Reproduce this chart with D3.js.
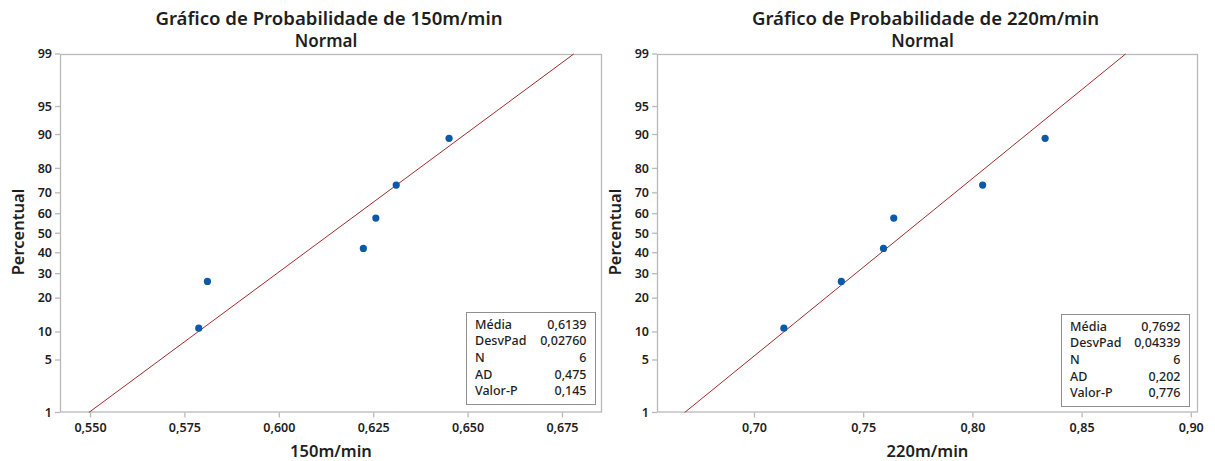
<!DOCTYPE html>
<html>
<head>
<meta charset="utf-8">
<script src="https://cdn.jsdelivr.net/npm/d3@7"></script>
<style>
  html, body { margin: 0; padding: 0; background: #fff; }
  svg { display: block; font-family: "Noto Sans", "Open Sans", sans-serif; }
</style>
</head>
<body>
<svg id="chart" width="1215" height="461"></svg>
<script>
// Percent ticks on the normal probability axis
const pctTicks = [1, 5, 10, 20, 30, 40, 50, 60, 70, 80, 90, 95, 99];
// Plotting positions (median ranks) for n = 6
const percentis = [10.9, 26.6, 42.2, 57.8, 73.4, 89.1];

// 150 m/min sample
const valores150 = [0.5788, 0.5811, 0.6224, 0.6257, 0.6311, 0.6451];
const ticks150 = [0.550, 0.575, 0.600, 0.625, 0.650, 0.675];
const statsLabels = ["Média", "DesvPad", "N", "AD", "Valor-P"];
const stats150 = ["0,6139", "0,02760", "6", "0,475", "0,145"];
const media150 = 0.6139, desvPad150 = 0.02760;

// 220 m/min sample
const valores220 = [0.7137, 0.7400, 0.7593, 0.7640, 0.8047, 0.8333];
const ticks220 = [0.70, 0.75, 0.80, 0.85, 0.90];
const stats220 = ["0,7692", "0,04339", "6", "0,202", "0,776"];
const media220 = 0.7692, desvPad220 = 0.04339;

// Inverse standard normal CDF (Acklam's rational approximation)
function probit(p) {
  const a = [-3.969683028665376e+01, 2.209460984245205e+02, -2.759285104469687e+02,
             1.383577518672690e+02, -3.066479806614716e+01, 2.506628277459239e+00];
  const b = [-5.447609879822406e+01, 1.615858368580409e+02, -1.556989798598866e+02,
             6.680131188771972e+01, -1.328068155288572e+01];
  const c = [-7.784894002430293e-03, -3.223964580411365e-01, -2.400758277161838e+00,
             -2.549671010149854e+00, 4.374664141464968e+00, 2.938163982698783e+00];
  const d = [7.784695709041462e-03, 3.224671290700398e-01, 2.445134137142996e+00,
             3.754408661907416e+00];
  const pl = 0.02425, ph = 1 - pl;
  let q, r;
  if (p < pl) {
    q = Math.sqrt(-2 * Math.log(p));
    return (((((c[0]*q+c[1])*q+c[2])*q+c[3])*q+c[4])*q+c[5]) /
           ((((d[0]*q+d[1])*q+d[2])*q+d[3])*q+1);
  } else if (p <= ph) {
    q = p - 0.5; r = q * q;
    return (((((a[0]*r+a[1])*r+a[2])*r+a[3])*r+a[4])*r+a[5])*q /
           (((((b[0]*r+b[1])*r+b[2])*r+b[3])*r+b[4])*r+1);
  } else {
    q = Math.sqrt(-2 * Math.log(1 - p));
    return -(((((c[0]*q+c[1])*q+c[2])*q+c[3])*q+c[4])*q+c[5]) /
            ((((d[0]*q+d[1])*q+d[2])*q+d[3])*q+1);
  }
}

const ptBR = d3.formatLocale({ decimal: ",", thousands: ".", grouping: [3], currency: ["R$", ""] });

const panels = [
  {
    title: "Gráfico de Probabilidade de 150m/min", xLabel: "150m/min",
    values: valores150, ticks: ticks150, fmt: ptBR.format(".3f"),
    media: media150, sd: desvPad150, stats: stats150,
    x0: 60, x1: 602, domain: [0.54205, 0.6856], yLabelX: 18,
    box: { x: 466.5, y: 312.5, w: 129, h: 92 }
  },
  {
    title: "Gráfico de Probabilidade de 220m/min", xLabel: "220m/min",
    values: valores220, ticks: ticks220, fmt: ptBR.format(".2f"),
    media: media220, sd: desvPad220, stats: stats220,
    x0: 657, x1: 1198, domain: [0.6556, 0.9033], yLabelX: 615,
    box: { x: 1061.5, y: 314.5, w: 128, h: 92 }
  }
];

const svg = d3.select("#chart");
const plotTop = 54, plotBottom = 412.5;
const axisColor = "#b9b9b9", textColor = "#1e1e1e";
const pointColor = "#0b5aa8", lineColor = "#a52a2a";

// y: percent mapped through the normal quantile
const zScale = d3.scaleLinear()
  .domain([probit(0.01), probit(0.99)])
  .range([plotBottom, plotTop]);
const yPct = p => zScale(probit(p / 100));

panels.forEach(P => {
  const g = svg.append("g");
  const x = d3.scaleLinear().domain(P.domain).range([P.x0, P.x1]);
  const cx = (P.x0 + P.x1) / 2;

  // titles
  g.append("text").attr("x", cx - 2).attr("y", 25)
    .attr("text-anchor", "middle").attr("font-size", 18.6).attr("font-weight", 600)
    .attr("fill", textColor).text(P.title);
  g.append("text").attr("x", cx - 5).attr("y", 47)
    .attr("text-anchor", "middle").attr("font-size", 17).attr("font-weight", 600)
    .attr("fill", textColor).text("Normal");

  // frame
  g.append("rect").attr("x", P.x0 + 0.5).attr("y", plotTop + 0.5)
    .attr("width", P.x1 - P.x0 - 1).attr("height", plotBottom - plotTop - 1)
    .attr("fill", "none").attr("stroke", axisColor).attr("stroke-width", 1.3);

  // y axis (probability scale)
  const yAxis = g.append("g").attr("transform", `translate(${P.x0},0)`);
  pctTicks.forEach(t => {
    const yy = yPct(t);
    yAxis.append("line").attr("x1", -5).attr("x2", 0).attr("y1", yy).attr("y2", yy)
      .attr("stroke", axisColor).attr("stroke-width", 1.3);
    yAxis.append("text").attr("x", -8).attr("y", yy).attr("dy", "0.35em")
      .attr("text-anchor", "end").attr("font-size", 12.5).attr("font-weight", 600)
      .attr("fill", textColor).text(t);
  });

  // x axis
  const xAxis = g.append("g").attr("transform", `translate(0,${plotBottom})`)
    .call(d3.axisBottom(x).tickValues(P.ticks).tickFormat(P.fmt).tickSizeOuter(0).tickSize(5).tickPadding(6));
  xAxis.select(".domain").remove();
  xAxis.attr("font-family", null).attr("font-size", null);
  xAxis.selectAll(".tick line").attr("stroke", axisColor).attr("stroke-width", 1.3);
  xAxis.selectAll(".tick text").attr("font-size", 12.5).attr("font-weight", 600)
    .attr("fill", textColor);

  // axis labels
  g.append("text").attr("x", cx).attr("y", 457)
    .attr("text-anchor", "middle").attr("font-size", 16.5).attr("font-weight", 600)
    .attr("fill", textColor).text(P.xLabel);
  g.append("text").attr("transform", `translate(${P.yLabelX},232) rotate(-90)`)
    .attr("dy", "0.35em").attr("text-anchor", "middle")
    .attr("font-size", 16.5).attr("font-weight", 600)
    .attr("fill", textColor).text("Percentual");

  // fitted normal line from the stated mean and standard deviation
  const fit = [1, 99].map(p => ({ v: P.media + probit(p / 100) * P.sd, p }));
  g.append("path").datum(fit)
    .attr("d", d3.line().x(d => x(d.v)).y(d => yPct(d.p)))
    .attr("fill", "none").attr("stroke", lineColor).attr("stroke-width", 1);

  // data points
  g.selectAll("circle.pt").data(P.values).join("circle").attr("class", "pt")
    .attr("cx", d => x(d)).attr("cy", (d, i) => yPct(percentis[i]))
    .attr("r", 3.6).attr("fill", pointColor);

  // statistics box
  const B = P.box;
  g.append("rect").attr("x", B.x).attr("y", B.y).attr("width", B.w).attr("height", B.h)
    .attr("fill", "#fff").attr("stroke", "#8f8f8f").attr("stroke-width", 1);
  statsLabels.forEach((lab, i) => {
    const yy = B.y + 12 + i * 16.6;
    g.append("text").attr("x", B.x + 8.5).attr("y", yy).attr("dy", "0.35em")
      .attr("font-size", 12.5).attr("font-weight", 500).attr("fill", textColor).text(lab);
    g.append("text").attr("x", B.x + B.w - 9).attr("y", yy).attr("dy", "0.35em")
      .attr("text-anchor", "end").attr("font-size", 12.5).attr("font-weight", 500)
      .attr("fill", textColor).text(P.stats[i]);
  });
});
</script>
</body>
</html>
